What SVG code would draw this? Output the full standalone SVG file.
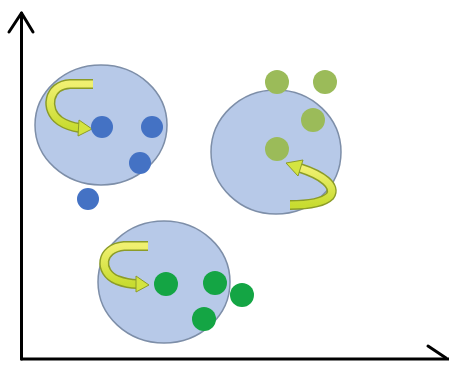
<svg xmlns="http://www.w3.org/2000/svg" width="449" height="365" viewBox="0 0 449 365">
<defs>
<linearGradient id="yg" x1="0" y1="0" x2="0" y2="1">
<stop offset="0" stop-color="#f0f070"/>
<stop offset="1" stop-color="#c8dc30"/>
</linearGradient>
</defs>
<style>
.cell{fill:#b7c9e8;stroke:#7d8ea8;stroke-width:1.5}
.db{fill:#4472c4}
.lg{fill:#9bbb59}
.dg{fill:#14a544}
.band-o{fill:none;stroke:#8c9c28;stroke-width:10;stroke-linecap:butt}
.band-i{fill:none;stroke:url(#yg);stroke-width:7;stroke-linecap:butt}
.head{fill:#d4e440;stroke:#8c9c28;stroke-width:1}
.axis{fill:none;stroke:#000;stroke-width:3;stroke-linecap:round;stroke-linejoin:round}
</style>
<rect width="449" height="365" fill="#ffffff"/>
<g id="axes">
<path class="axis" d="M21.5,359 L21.5,13"/>
<path class="axis" d="M9,32 L21.5,13 L33,32"/>
<path class="axis" d="M21.5,359 L449,359"/>
<path class="axis" d="M428,346 L446,358"/>
</g>
<g id="cell1">
<ellipse class="cell" cx="101" cy="125" rx="66" ry="60"/>
<path class="band-o" d="M93,84 L70,84 C48,85 44,110 60,121 C66,125 73,127 80,128"/>
<path class="band-i" d="M93,84 L70,84 C48,85 44,110 60,121 C66,125 73,127 80,128"/>
<polygon class="head" points="79,120 92,129 78,136"/>
<circle class="db" cx="102" cy="127" r="11"/>
<circle class="db" cx="152" cy="127" r="11"/>
<circle class="db" cx="140" cy="163" r="11"/>
<circle class="db" cx="88" cy="199" r="11"/>
</g>
<g id="cell2">
<ellipse class="cell" cx="276" cy="152" rx="65" ry="62"/>
<circle class="lg" cx="277" cy="82" r="12"/>
<circle class="lg" cx="325" cy="82" r="12"/>
<circle class="lg" cx="313" cy="120" r="12"/>
<circle class="lg" cx="277" cy="149" r="12"/>
<path class="band-o" d="M290,205 C305,205 323,203 330,196 C337,186 322,175 300,168"/>
<path class="band-i" d="M290,205 C305,205 323,203 330,196 C337,186 322,175 300,168"/>
<polygon class="head" points="303,160 286,163 298,176"/>
</g>
<g id="cell3">
<ellipse class="cell" cx="164" cy="282" rx="66" ry="61"/>
<path class="band-o" d="M148,246 L124,246 C100,248 98,272 117,280 C125,283 131,284 137,284"/>
<path class="band-i" d="M148,246 L124,246 C100,248 98,272 117,280 C125,283 131,284 137,284"/>
<polygon class="head" points="136,276 149,285 136,292"/>
<circle class="dg" cx="166" cy="284" r="12"/>
<circle class="dg" cx="215" cy="283" r="12"/>
<circle class="dg" cx="242" cy="295" r="12"/>
<circle class="dg" cx="204" cy="319" r="12"/>
</g>
</svg>
